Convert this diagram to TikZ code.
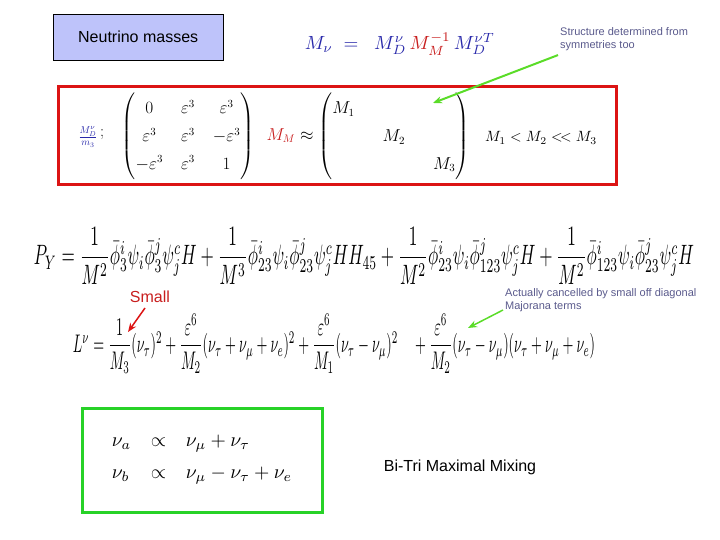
\documentclass[tikz,border=0pt]{standalone}
\usepackage{fontspec}
\usepackage{amsmath,amssymb,graphicx}
\setsansfont{Liberation Sans}
\definecolor{eqblue}{RGB}{40,40,170}
\definecolor{eqred}{RGB}{200,30,30}
\definecolor{boxred}{RGB}{220,20,20}
\definecolor{boxgreen}{RGB}{40,210,40}
\definecolor{arrgreen}{RGB}{90,220,40}
\definecolor{titlefill}{RGB}{190,195,250}
\definecolor{notecol}{RGB}{90,90,140}
\tikzset{
  note/.style={font=\sffamily\fontsize{11}{13.5}\selectfont, text=notecol, align=left, anchor=west, inner sep=0},
  big/.style={font=\sffamily\fontsize{16}{19}\selectfont, inner sep=0},
  eq/.style={inner sep=0},
  mtx/.style={inner sep=0, font=\fontsize{16}{19}\selectfont},
  harrow/.style={-{Stealth[length=9pt,width=7pt]}, line width=2pt}
}
\usetikzlibrary{arrows.meta}
\begin{document}
\begin{tikzpicture}[x=1pt,y=-1pt]
\useasboundingbox (0,0) rectangle (720,540);
\node[draw=black, fill=titlefill, minimum width=170pt, minimum height=46pt, big, anchor=north west] (title) at (53,14) {Neutrino masses};
\node[eq] (meq) at (400,44) {\resizebox{190pt}{!}{$\color{eqblue}M_\nu \;=\;\; M_D^{\nu}\,{\color{eqred}M_M^{-1}}\,M_D^{\nu T}$}};
\node[note] (n1) at (560,39) {Structure determined from\\symmetries too};
\draw[draw=boxred, line width=3pt] (58,87) rectangle (616,185);
\node[eq, font=\fontsize{14}{16}\selectfont] (frac) at (88,137) {\color{eqblue}$\frac{M_D^\nu}{m_3}$};
\node[eq, anchor=west, font=\fontsize{16}{19}\selectfont] (semi) at (100,135) {;};
\node[mtx] (mat1) at (188,136) {\renewcommand\arraystretch{1.45}\setlength\arraycolsep{9pt}$\begin{pmatrix}0&\varepsilon^3&\varepsilon^3\\ \varepsilon^3&\varepsilon^3&-\varepsilon^3\\ -\varepsilon^3&\varepsilon^3&1\end{pmatrix}$};
\node[mtx] (mm) at (368,136) {\renewcommand\arraystretch{1.45}\setlength\arraycolsep{14pt}${\color{eqred}M_M}\approx\begin{pmatrix}M_1&&\\ &M_2&\\ &&M_3\end{pmatrix}$};
\node[eq] (ineq) at (541,138) {\resizebox{112pt}{!}{$M_1<M_2<\!<M_3$}};
\draw[harrow, arrgreen] (n1.south west) ++(-2,4) -- (433,103);
\node[eq] (py) at (364,256) {\resizebox{660pt}{37pt}{$P_Y=\dfrac{1}{M^2}\bar\phi_3^i\psi_i\bar\phi_3^j\psi_j^cH+\dfrac{1}{M^3}\bar\phi_{23}^i\psi_i\bar\phi_{23}^j\psi_j^cHH_{45}+\dfrac{1}{M^2}\bar\phi_{23}^i\psi_i\bar\phi_{123}^j\psi_j^cH+\dfrac{1}{M^2}\bar\phi_{123}^i\psi_i\bar\phi_{23}^j\psi_j^cH$}};
\node[big, text=eqred] (small) at (150,297) {Small};
\node[note, text=notecol] (n2) at (505,300) {Actually cancelled by small off diagonal\\Majorana terms};
\node[eq] (leq) at (334,344) {\resizebox{522pt}{38pt}{$L^\nu=\dfrac{1}{M_3}(\nu_\tau)^2+\dfrac{\varepsilon^6}{M_2}(\nu_\tau+\nu_\mu+\nu_e)^2+\dfrac{\varepsilon^6}{M_1}(\nu_\tau-\nu_\mu)^2\quad+\dfrac{\varepsilon^6}{M_2}(\nu_\tau-\nu_\mu)(\nu_\tau+\nu_\mu+\nu_e)$}};
\coordinate (sa) at (145,308);
\coordinate (se) at (128,332);
\draw[harrow, boxred, line width=1.5pt] (sa) -- (se);
\coordinate (ga) at (503,310);
\coordinate (ge) at (468,328);
\draw[harrow, arrgreen, line width=1.5pt] (ga) -- (ge);
\draw[draw=boxgreen, line width=3pt] (82,408) rectangle (322,512);
\node[eq] (mix) at (202,458) {\resizebox{200pt}{!}{$\begin{array}{lcl}\nu_a&\propto&\nu_\mu+\nu_\tau\\[4pt] \nu_b&\propto&\nu_\mu-\nu_\tau+\nu_e\end{array}$}};
\node[big] (bt) at (460,467) {Bi-Tri Maximal Mixing};
\end{tikzpicture}
\end{document}
